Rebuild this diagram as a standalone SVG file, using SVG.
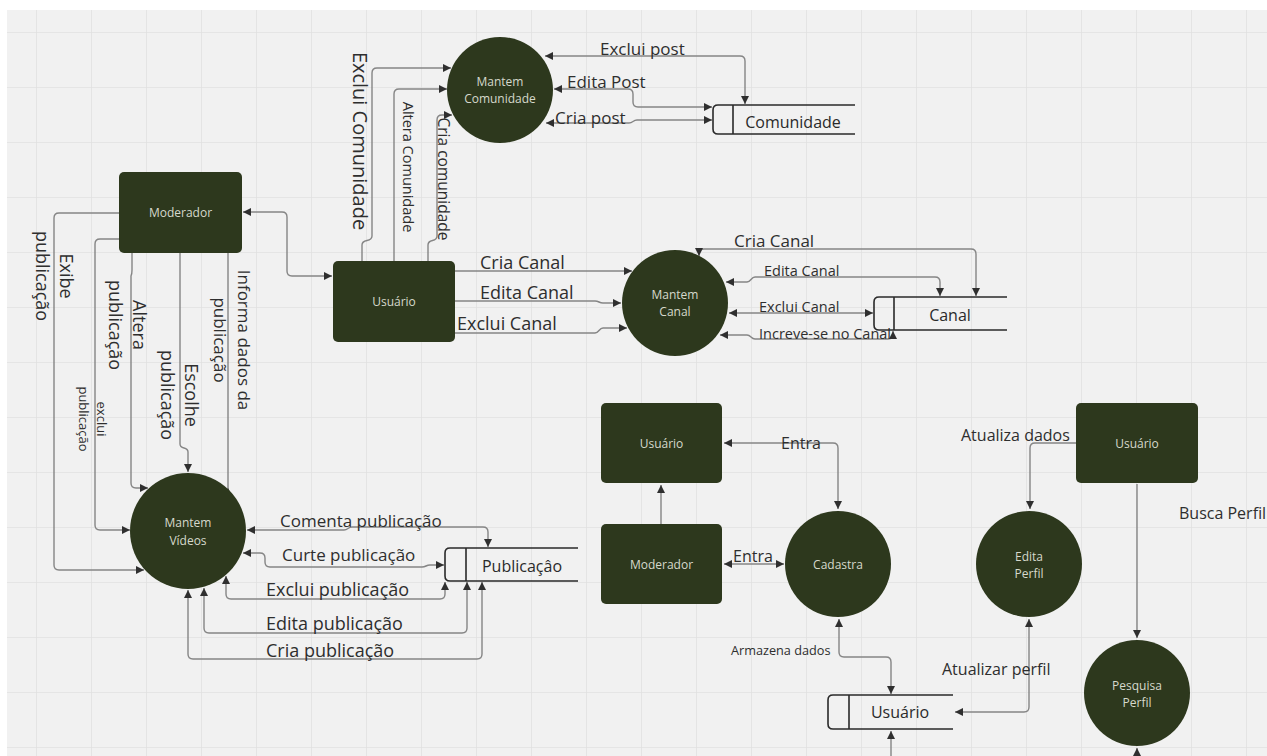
<svg xmlns="http://www.w3.org/2000/svg" width="1267" height="756" viewBox="0 0 1267 756">
  <defs>
    <pattern id="grid" patternUnits="userSpaceOnUse" x="36" y="32" width="55" height="55">
      <path d="M0 0 L55 0 M0 0 L0 55" fill="none" stroke="#e1e1e1" stroke-width="1.6"/>
    </pattern>
    <marker id="arr" viewBox="0 0 9 9" refX="9" refY="4.5" markerWidth="8" markerHeight="8" markerUnits="userSpaceOnUse" orient="auto-start-reverse">
      <path d="M0 0 L9 4.5 L0 9 Z" fill="#2f2f2f"/>
    </marker>
    <style>
      .node { fill: #2d381d; }
      .nt { font-family: "Open Sans", "Noto Sans", sans-serif; font-size: 12px; fill: #d6d9cc; text-anchor: middle; }
      .lbl { font-family: "Open Sans", "Noto Sans", sans-serif; fill: #2e2e2e; }
      .store { fill: none; stroke: #2a2a2a; stroke-width: 1.6; }
      .st { font-family: "Open Sans", "Noto Sans", sans-serif; font-size: 16px; fill: #2a2a2a; text-anchor: middle; }
      .c { fill: none; stroke: #858585; stroke-width: 1.4; }
      .a2 { marker-start: url(#arr); marker-end: url(#arr); }
      .a1 { marker-end: url(#arr); }
      .rot { text-anchor: middle; }
    </style>
  </defs>

  <!-- canvas -->
  <rect x="0" y="0" width="1267" height="756" fill="#ffffff"/>
  <rect x="7" y="10" width="1260" height="746" fill="#f1f1f1"/>
  <rect x="7" y="10" width="1260" height="746" fill="url(#grid)"/>

  <!-- connectors and their labels -->
  <g id="connectors">
    <!-- Mantem Comunidade <-> Comunidade -->
    <path class="c a2" d="M745 104 L745 61 Q745 56 740 56 L545 56"/>
    <path class="c a2" d="M712 107 L638 107 Q633 107 633 102 L633 94 Q633 89 628 89 L554 89"/>
    <path class="c a2" d="M712 120 L637 120 C633 120 633 123 629 123 L546 123"/>
    <text class="lbl" x="600" y="55" font-size="17">Exclui post</text>
    <text class="lbl" x="567" y="88" font-size="17">Edita Post</text>
    <text class="lbl" x="555" y="124" font-size="17">Cria post</text>

    <!-- Usuário -> Mantem Comunidade -->
    <path class="c a1" d="M362 261 L362 245 C362 238 372 243 372 236 L372 73 Q372 68 377 68 L451 68"/>
    <path class="c a1" d="M394 261 L394 94 Q394 89 399 89 L447 89"/>
    <path class="c a1" d="M428 261 L428 245 C428 238 437 243 437 236 L437 120 Q437 115 442 115 L452 115"/>
    <text class="lbl rot" transform="translate(353 141) rotate(90)" font-size="20">Exclui Comunidade</text>
    <text class="lbl rot" transform="translate(403 167) rotate(90)" font-size="14.5">Altera Comunidade</text>
    <text class="lbl rot" transform="translate(438 179) rotate(90)" font-size="15.5">Cria comunidade</text>

    <!-- Moderador <-> Usuário -->
    <path class="c a2" d="M243 212 L282 212 Q287 212 287 217 L287 271 Q287 276 292 276 L332 276"/>

    <!-- Moderador -> Mantem Vídeos -->
    <path class="c a1" d="M119 213 L59 213 Q54 213 54 218 L54 565 Q54 570 59 570 L144 570"/>
    <path class="c a1" d="M119 239 L100 239 Q95 239 95 244 L95 525 Q95 530 100 530 L130 530"/>
    <path class="c a1" d="M132 253 L132 270 Q132 274 131 276 L131 483 Q131 488 136 488 L148 488"/>
    <path class="c a1" d="M180 253 L180 444 C180 450 188 446 188 452 L188 472"/>
    <path class="c" d="M228 253 L228 488"/>
    <path class="c a1" d="M228 518 L228 488" stroke="#222222"/>
    <text class="lbl rot" transform="translate(60 276) rotate(90)" font-size="18">Exibe</text>
    <text class="lbl rot" transform="translate(36 276) rotate(90)" font-size="18">publicação</text>
    <text class="lbl rot" transform="translate(97 419) rotate(90)" font-size="13">exclui</text>
    <text class="lbl rot" transform="translate(79 419) rotate(90)" font-size="13">publicação</text>
    <text class="lbl rot" transform="translate(133 325) rotate(90)" font-size="18">Altera</text>
    <text class="lbl rot" transform="translate(109 325) rotate(90)" font-size="18">publicação</text>
    <text class="lbl rot" transform="translate(185 395) rotate(90)" font-size="18">Escolhe</text>
    <text class="lbl rot" transform="translate(161 395) rotate(90)" font-size="18">publicação</text>
    <text class="lbl rot" transform="translate(238 340) rotate(90)" font-size="17">Informa dados da</text>
    <text class="lbl rot" transform="translate(214 340) rotate(90)" font-size="17">publicação</text>

    <!-- Mantem Vídeos <-> Publicação -->
    <path class="c a2" d="M488 547 L488 532 Q488 527 483 527 L352 527 C348 527 348 530 344 530 L247 530"/>
    <path class="c a2" d="M444 565 L430 565 C426 565 426 567 422 567 L270 567 Q265 567 265 562 L265 558 Q265 553 260 553 L243 553"/>
    <path class="c a2" d="M445 582 L445 594 Q445 599 440 599 L231 599 Q226 599 226 594 L226 576"/>
    <path class="c a2" d="M467 582 L467 628 Q467 633 462 633 L209 633 Q204 633 204 628 L204 588"/>
    <path class="c a2" d="M482 582 L482 654 Q482 659 477 659 L193 659 Q188 659 188 654 L188 590"/>
    <text class="lbl" x="280" y="527" font-size="17">Comenta publicação</text>
    <text class="lbl" x="282" y="561" font-size="17">Curte publicação</text>
    <text class="lbl" x="266" y="596" font-size="18">Exclui publicação</text>
    <text class="lbl" x="266" y="630" font-size="18">Edita publicação</text>
    <text class="lbl" x="266" y="657" font-size="18">Cria publicação</text>

    <!-- Usuário -> Mantem Canal -->
    <path class="c a1" d="M455 271 L632 271"/>
    <path class="c a1" d="M455 301 L595 301 C599 301 599 303 603 303 L621 303"/>
    <path class="c a1" d="M455 333 L595 333 C599 333 599 328 603 328 L627 328"/>
    <text class="lbl" x="480" y="269" font-size="18">Cria Canal</text>
    <text class="lbl" x="480" y="299" font-size="18">Edita Canal</text>
    <text class="lbl" x="457" y="330" font-size="18">Exclui Canal</text>

    <!-- Mantem Canal <-> Canal -->
    <path class="c a2" d="M976 296 L976 254 Q976 249 971 249 L704 249 Q699 249 699 252 L699 256"/>
    <path class="c a2" d="M940 296 L940 282 Q940 277 935 277 L755 277 C751 277 751 282 747 282 L726 282"/>
    <path class="c a2" d="M729 313 L873 313"/>
    <path class="c a2" d="M893 331 L893 334 Q893 339 888 339 L755 339 C751 339 751 335 747 335 L720 335"/>
    <text class="lbl" x="734" y="247" font-size="17">Cria Canal</text>
    <text class="lbl" x="764" y="276" font-size="14.5">Edita Canal</text>
    <text class="lbl" x="759" y="312" font-size="14.5">Exclui Canal</text>
    <text class="lbl" x="759" y="339" font-size="14.5">Increve-se no Canal</text>

    <!-- Cadastro -->
    <path class="c a1" d="M661 524 L661 485"/>
    <path class="c a2" d="M838 509 L838 448 Q838 443 833 443 L724 443"/>
    <path class="c a2" d="M724 564 L784 564"/>
    <path class="c a2" d="M891 694 L891 662 Q891 657 886 657 L844 657 Q839 657 839 652 L839 619"/>
    <path class="c a1" d="M891 756 L891 731"/>
    <text class="lbl" x="781" y="449" font-size="16">Entra</text>
    <text class="lbl" x="733" y="562" font-size="16">Entra</text>
    <text class="lbl" x="731" y="655" font-size="12.7">Armazena dados</text>

    <!-- Perfil -->
    <path class="c a2" d="M1029 619 L1029 707 Q1029 712 1024 712 L955 712"/>
    <path class="c a1" d="M1076 443 L1035 443 Q1030 443 1030 448 L1030 509"/>
    <path class="c a1" d="M1137 484 L1137 638"/>
    <path class="c a1" d="M1137 756 L1137 748"/>
    <text class="lbl" x="961" y="441" font-size="16">Atualiza dados</text>
    <text class="lbl" x="942" y="675" font-size="16">Atualizar perfil</text>
    <text class="lbl" x="1179" y="519" font-size="16">Busca Perfil</text>
  </g>

  <!-- processes -->
  <g id="mantem-comunidade">
    <circle class="node" cx="500" cy="90" r="53"/>
    <text class="nt" x="500" y="86">Mantem</text>
    <text class="nt" x="500" y="103">Comunidade</text>
  </g>
  <g id="mantem-canal">
    <circle class="node" cx="675" cy="303" r="53"/>
    <text class="nt" x="675" y="299">Mantem</text>
    <text class="nt" x="675" y="316">Canal</text>
  </g>
  <g id="mantem-videos">
    <circle class="node" cx="188" cy="531" r="58"/>
    <text class="nt" x="188" y="527">Mantem</text>
    <text class="nt" x="188" y="545">Vídeos</text>
  </g>
  <g id="cadastra">
    <circle class="node" cx="838" cy="564" r="53"/>
    <text class="nt" x="838" y="569">Cadastra</text>
  </g>
  <g id="edita-perfil">
    <circle class="node" cx="1029" cy="564" r="53"/>
    <text class="nt" x="1029" y="561">Edita</text>
    <text class="nt" x="1029" y="578">Perfil</text>
  </g>
  <g id="pesquisa-perfil">
    <circle class="node" cx="1137" cy="693" r="53"/>
    <text class="nt" x="1137" y="690">Pesquisa</text>
    <text class="nt" x="1137" y="707">Perfil</text>
  </g>

  <!-- external entities -->
  <g id="moderador">
    <rect class="node" x="119" y="172" width="123" height="81" rx="5"/>
    <text class="nt" x="180.5" y="217">Moderador</text>
  </g>
  <g id="usuario">
    <rect class="node" x="333" y="261" width="122" height="81" rx="5"/>
    <text class="nt" x="394" y="306">Usuário</text>
  </g>
  <g id="usuario-cadastro">
    <rect class="node" x="601" y="403" width="121" height="80" rx="5"/>
    <text class="nt" x="661.5" y="448">Usuário</text>
  </g>
  <g id="moderador-cadastro">
    <rect class="node" x="601" y="524" width="121" height="80" rx="5"/>
    <text class="nt" x="661.5" y="569">Moderador</text>
  </g>
  <g id="usuario-perfil">
    <rect class="node" x="1076" y="403" width="122" height="80" rx="5"/>
    <text class="nt" x="1137" y="448">Usuário</text>
  </g>

  <!-- data stores -->
  <g id="store-comunidade">
    <path class="store" d="M855 105 L718 105 Q713 105 713 110 L713 129 Q713 134 718 134 L855 134 M733 105 L733 134"/>
    <text class="st" x="793" y="128">Comunidade</text>
  </g>
  <g id="store-canal">
    <path class="store" d="M1007 297 L879 297 Q874 297 874 302 L874 325 Q874 330 879 330 L1007 330 M894 297 L894 330"/>
    <text class="st" x="950" y="321">Canal</text>
  </g>
  <g id="store-publicacao">
    <path class="store" d="M578 548 L450 548 Q445 548 445 553 L445 576 Q445 581 450 581 L578 581 M466 548 L466 581"/>
    <text class="st" x="522" y="572">Publicaçâo</text>
  </g>
  <g id="store-usuario">
    <path class="store" d="M953 695 L833 695 Q828 695 828 700 L828 724 Q828 729 833 729 L953 729 M849 695 L849 729"/>
    <text class="st" x="900" y="718">Usuário</text>
  </g>
</svg>
